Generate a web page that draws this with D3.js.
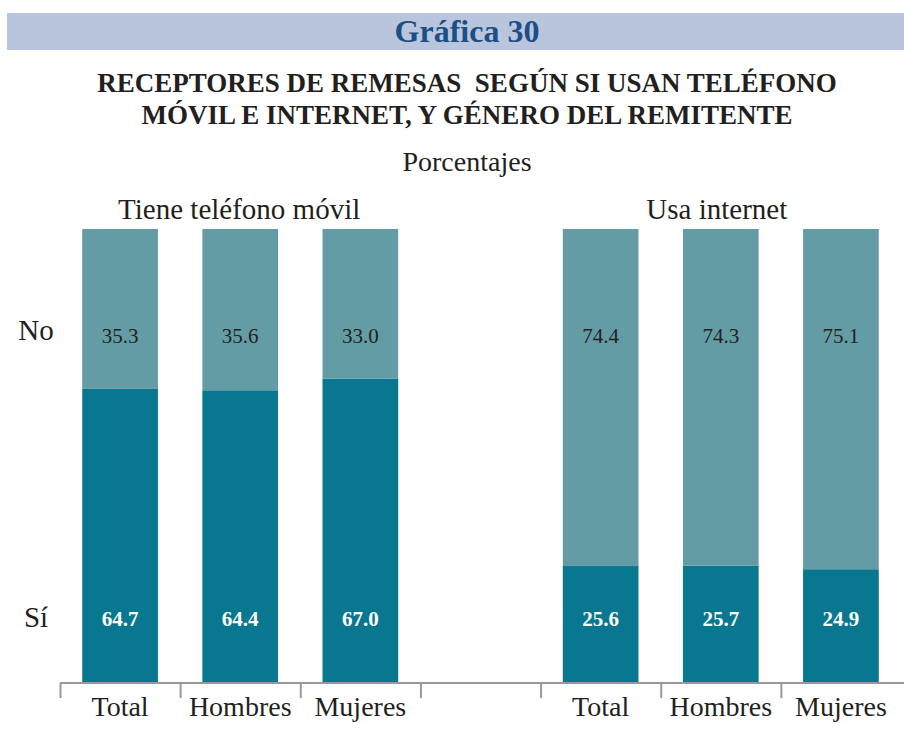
<!DOCTYPE html>
<html>
<head>
<meta charset="utf-8">
<script src="https://cdn.jsdelivr.net/npm/d3@7"></script>
<style>
  body { margin: 0; background: #fff; }
  svg text { font-family: "Liberation Serif", "DejaVu Serif", serif; }
</style>
</head>
<body>
<svg id="chart" width="904" height="746"></svg>
<script>
// data
const groups = ['Tiene teléfono móvil', 'Usa internet'];
const categories = ['Total', 'Hombres', 'Mujeres'];
const siValues = [[64.7, 64.4, 67.0], [25.6, 25.7, 24.9]];
const noValues = [[35.3, 35.6, 33.0], [74.4, 74.3, 75.1]];
const rowLabels = ['No', 'Sí'];

const colorSi = '#09778f';
const colorNo = '#639ca5';
const ink = '#231f20';

const svg = d3.select('#chart');

// header band
svg.append('rect')
  .attr('x', 7).attr('y', 13)
  .attr('width', 897).attr('height', 37)
  .attr('fill', '#b8c5dd');
svg.append('text')
  .attr('x', 467).attr('y', 42)
  .attr('text-anchor', 'middle')
  .attr('font-size', 32).attr('font-weight', 'bold')
  .attr('fill', '#1d4f86')
  .text('Gráfica 30');

const title = ['RECEPTORES DE REMESAS  SEGÚN SI USAN TELÉFONO', 'MÓVIL E INTERNET, Y GÉNERO DEL REMITENTE'];
svg.append('g').selectAll('text')
  .data(title)
  .join('text')
  .attr('x', 467)
  .attr('y', (d, i) => 92 + i * 32)
  .attr('text-anchor', 'middle')
  .attr('font-size', 27).attr('font-weight', 'bold')
  .attr('fill', ink)
  .style('white-space', 'pre')
  .text(d => d);

svg.append('text')
  .attr('x', 467).attr('y', 171)
  .attr('text-anchor', 'middle')
  .attr('font-size', 28)
  .attr('fill', ink)
  .text('Porcentajes');

// flat list of slots: 3 bars, a gap, 3 bars
const slots = [];
groups.forEach((g, gi) => {
  categories.forEach((c, ci) => {
    slots.push({ key: gi + '-' + c, group: gi, cat: c, si: siValues[gi][ci], no: noValues[gi][ci] });
  });
  if (gi === 0) slots.push({ key: 'gap', group: -1 });
});

const x = d3.scaleBand()
  .domain(slots.map(d => d.key))
  .range([60, 901]);
const xBar = d3.scaleBand()
  .domain(slots.map(d => d.key))
  .range([60, 901])
  .paddingInner(0.37)
  .paddingOuter(0.185);
const y = d3.scaleLinear().domain([0, 100]).range([682, 229]);

const bars = slots.filter(d => d.group >= 0);

const g = svg.append('g');
g.selectAll('rect.si')
  .data(bars)
  .join('rect')
  .attr('class', 'si')
  .attr('x', d => xBar(d.key))
  .attr('width', xBar.bandwidth())
  .attr('y', d => y(d.si))
  .attr('height', d => y(0) - y(d.si))
  .attr('fill', colorSi);
g.selectAll('rect.no')
  .data(bars)
  .join('rect')
  .attr('class', 'no')
  .attr('x', d => xBar(d.key))
  .attr('width', xBar.bandwidth())
  .attr('y', d => y(d.si + d.no))
  .attr('height', d => y(d.si) - y(d.si + d.no))
  .attr('fill', colorNo);

// value labels sit on two fixed rows
const rowY = { No: 343, Si: 626 };
g.selectAll('text.no')
  .data(bars)
  .join('text')
  .attr('class', 'no')
  .attr('x', d => xBar(d.key) + xBar.bandwidth() / 2)
  .attr('y', rowY.No)
  .attr('text-anchor', 'middle')
  .attr('font-size', 21)
  .attr('fill', ink)
  .text(d => d.no.toFixed(1));
g.selectAll('text.si')
  .data(bars)
  .join('text')
  .attr('class', 'si')
  .attr('x', d => xBar(d.key) + xBar.bandwidth() / 2)
  .attr('y', rowY.Si)
  .attr('text-anchor', 'middle')
  .attr('font-size', 21).attr('font-weight', 'bold')
  .attr('fill', '#fff')
  .text(d => d.si.toFixed(1));

svg.selectAll('text.row')
  .data(rowLabels)
  .join('text')
  .attr('class', 'row')
  .attr('x', 36)
  .attr('y', (d, i) => i === 0 ? 340 : 627)
  .attr('text-anchor', 'middle')
  .attr('font-size', 29)
  .attr('fill', ink)
  .text(d => d);

// group headings centred over their three bars
svg.selectAll('text.group')
  .data(groups)
  .join('text')
  .attr('class', 'group')
  .attr('x', (d, gi) => {
    const keys = categories.map(c => gi + '-' + c);
    return (x(keys[0]) + x(keys[2]) + x.bandwidth()) / 2 - (gi ? 4 : 1);
  })
  .attr('y', 219)
  .attr('text-anchor', 'middle')
  .attr('font-size', 29)
  .attr('fill', ink)
  .text(d => d);

// axis: baseline with ticks at band edges
const axis = svg.append('g');
axis.append('line')
  .attr('x1', 60).attr('x2', 904)
  .attr('y1', 683).attr('y2', 683)
  .attr('stroke', '#999').attr('stroke-width', 2);
axis.selectAll('line.tick')
  .data(slots)
  .join('line')
  .attr('class', 'tick')
  .attr('x1', d => x(d.key) + 0.5).attr('x2', d => x(d.key) + 0.5)
  .attr('y1', 683).attr('y2', 698)
  .attr('stroke', '#999').attr('stroke-width', 2);
axis.selectAll('text')
  .data(bars)
  .join('text')
  .attr('x', d => x(d.key) + x.bandwidth() / 2)
  .attr('y', 716)
  .attr('text-anchor', 'middle')
  .attr('font-size', 28)
  .attr('fill', ink)
  .text(d => d.cat);
</script>
</body>
</html>
